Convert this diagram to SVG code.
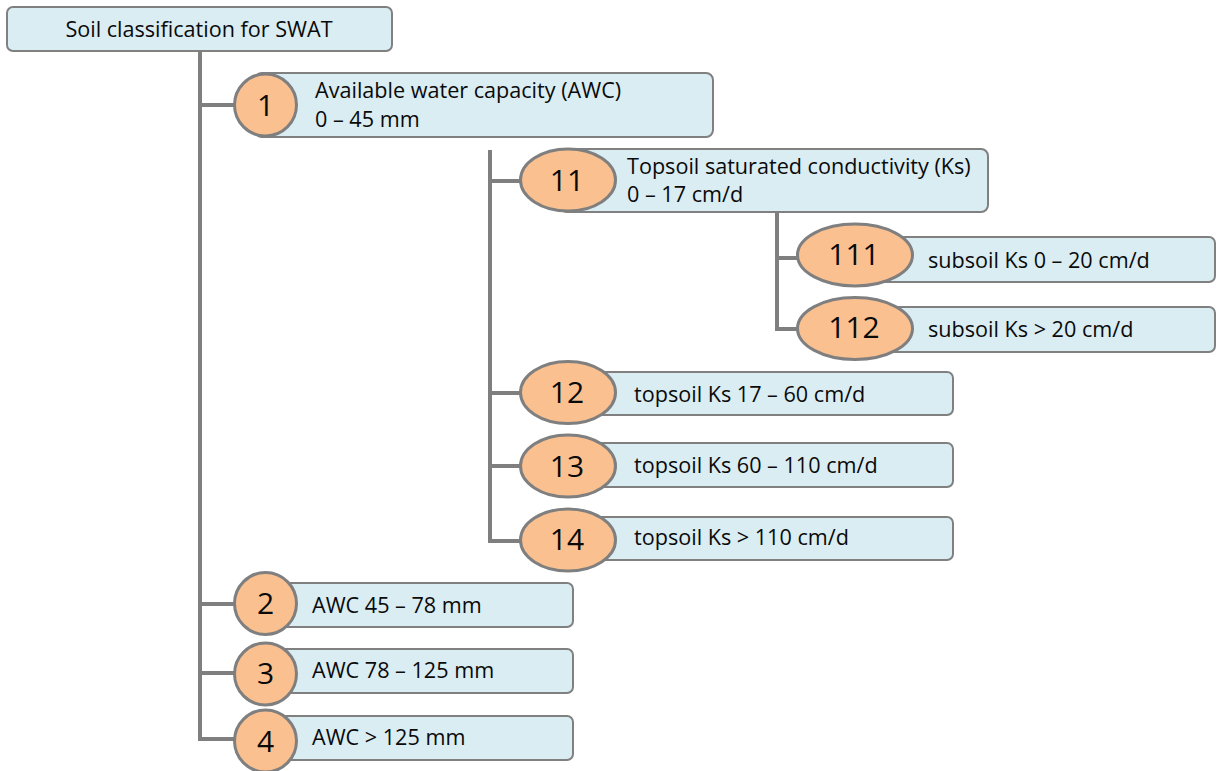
<svg xmlns="http://www.w3.org/2000/svg" width="1217" height="771" viewBox="0 0 1217 771">
  <style>
    .box { fill: #daedf3; stroke: #808080; stroke-width: 2; }
    .badge { fill: #fac090; stroke: #7f7f7f; stroke-width: 3; }
    .wire { fill: none; stroke: #7f7f7f; stroke-width: 4; stroke-linejoin: miter; }
    .lbl { font-family: "Open Sans", "Liberation Sans", sans-serif; font-size: 21.6px; fill: #0a0a0a; }
    .num { font-family: "Open Sans", "Liberation Sans", sans-serif; font-size: 30px; fill: #0a0a0a; text-anchor: middle; }
  </style>

  <!-- tree connectors -->
  <g id="connectors" class="wire">
    <path d="M200 51 V739 H236 M200 105 H236 M200 604 H236 M200 673 H236"/>
    <path d="M490 150 V541 H524 M490 181 H524 M490 393 H524 M490 466 H524"/>
    <path d="M777 212 V329 H800 M777 258 H800"/>
  </g>

  <g id="root">
    <rect class="box" x="7" y="7" width="385" height="44" rx="6"/>
    <text class="lbl" x="199" y="37" text-anchor="middle">Soil classification for SWAT</text>
  </g>

  <g id="n1">
    <rect class="box" x="255" y="73" width="458" height="64" rx="7"/>
    <circle class="badge" cx="265.5" cy="105" r="31"/>
    <text class="num" x="265.5" y="116">1</text>
    <text class="lbl" x="315" y="98">Available water capacity (AWC)</text>
    <text class="lbl" x="315" y="127">0 – 45 mm</text>
  </g>

  <g id="n11">
    <rect class="box" x="560" y="149" width="428" height="63" rx="7"/>
    <ellipse class="badge" cx="568" cy="180" rx="47.5" ry="31"/>
    <text class="num" x="567" y="191">11</text>
    <text class="lbl" x="627" y="174">Topsoil saturated conductivity (Ks)</text>
    <text class="lbl" x="627" y="202">0 – 17 cm/d</text>
  </g>

  <g id="n111">
    <rect class="box" x="850" y="237" width="365" height="45" rx="6"/>
    <ellipse class="badge" cx="855" cy="255" rx="57.5" ry="31"/>
    <text class="num" x="854" y="265">111</text>
    <text class="lbl" x="928" y="268">subsoil Ks 0 – 20 cm/d</text>
  </g>

  <g id="n112">
    <rect class="box" x="850" y="307" width="365" height="45" rx="6"/>
    <ellipse class="badge" cx="855" cy="328.5" rx="57.5" ry="31"/>
    <text class="num" x="854" y="338">112</text>
    <text class="lbl" x="928" y="337">subsoil Ks &gt; 20 cm/d</text>
  </g>

  <g id="n12">
    <rect class="box" x="560" y="372" width="393" height="43" rx="6"/>
    <ellipse class="badge" cx="568" cy="392.5" rx="47.5" ry="31"/>
    <text class="num" x="567" y="403">12</text>
    <text class="lbl" x="634" y="402">topsoil Ks 17 – 60 cm/d</text>
  </g>

  <g id="n13">
    <rect class="box" x="560" y="443" width="393" height="44" rx="6"/>
    <ellipse class="badge" cx="568" cy="466" rx="47.5" ry="31"/>
    <text class="num" x="567" y="477">13</text>
    <text class="lbl" x="634" y="473">topsoil Ks 60 – 110 cm/d</text>
  </g>

  <g id="n14">
    <rect class="box" x="560" y="517" width="393" height="43" rx="6"/>
    <ellipse class="badge" cx="568" cy="540" rx="47.5" ry="31"/>
    <text class="num" x="567" y="550">14</text>
    <text class="lbl" x="634" y="545">topsoil Ks &gt; 110 cm/d</text>
  </g>

  <g id="n2">
    <rect class="box" x="260" y="583" width="313" height="44" rx="6"/>
    <circle class="badge" cx="265.5" cy="603.5" r="31"/>
    <text class="num" x="265.5" y="614">2</text>
    <text class="lbl" x="312" y="613">AWC 45 – 78 mm</text>
  </g>

  <g id="n3">
    <rect class="box" x="260" y="649" width="313" height="44" rx="6"/>
    <circle class="badge" cx="265.5" cy="674" r="31"/>
    <text class="num" x="265.5" y="684">3</text>
    <text class="lbl" x="312" y="678">AWC 78 – 125 mm</text>
  </g>

  <g id="n4">
    <rect class="box" x="260" y="716" width="313" height="44" rx="6"/>
    <circle class="badge" cx="265.5" cy="741" r="31"/>
    <text class="num" x="265.5" y="752">4</text>
    <text class="lbl" x="312" y="745">AWC &gt; 125 mm</text>
  </g>
</svg>
